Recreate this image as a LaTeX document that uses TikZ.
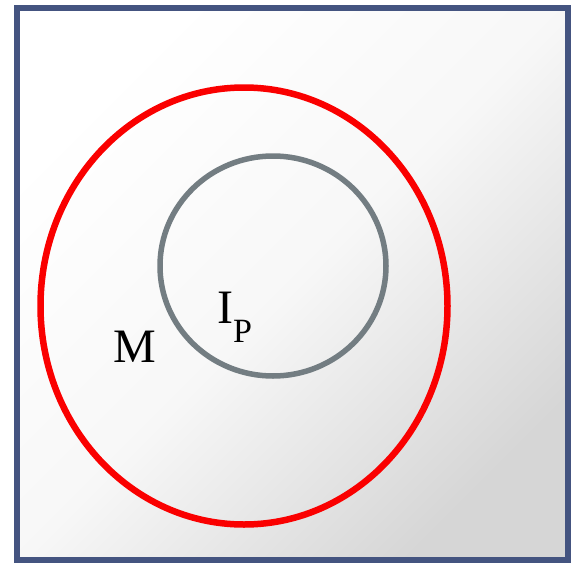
\documentclass[tikz,border=0pt]{standalone}
\usepackage{fontspec}
\setmainfont{Liberation Serif}
\usetikzlibrary{shapes.geometric}
\definecolor{frameblue}{RGB}{68,84,128}
\definecolor{ringred}{RGB}{250,0,0}
\definecolor{ringgray}{RGB}{115,125,130}
\tikzset{
    set diagram/.style = {x=1pt, y=-1pt},
    ring/.style        = {draw, ellipse, inner sep=0pt},
    outer ring/.style  = {ring, draw=ringred, line width=6.5pt,
                          minimum width=407pt, minimum height=437pt},
    inner ring/.style  = {ring, draw=ringgray, line width=5.5pt,
                          minimum width=226pt, minimum height=220pt},
    setlabel/.style    = {inner sep=0pt, font=\fontsize{48}{48}\selectfont}
}
\newcommand{\subletter}[1]{\raisebox{-19pt}{\fontsize{34}{34}\selectfont #1}}

\begin{document}
\begin{tikzpicture}[set diagram]
\useasboundingbox (0,0) rectangle (572,562);

% Universe frame with a soft diagonal fill.
\coordinate (frameNW) at (17,8);
\coordinate (frameSE) at (568,560);
\shade[top color=white, bottom color=gray!32, middle color=gray!6,
       shading angle=45] (frameNW) rectangle (frameSE);
\draw[frameblue, line width=6pt] (frameNW) rectangle (frameSE);

% The two nested sets.
\node[outer ring] (Mset) at (244,306) {};
\node[inner ring] (IPset) at (273,266) {};

% Set names.
\node[setlabel, anchor=base] (Mlabel) at (135,362) {M};
\node[setlabel, anchor=base west] (IPlabel) at (217,323) {I\subletter{P}};

\end{tikzpicture}
\end{document}
